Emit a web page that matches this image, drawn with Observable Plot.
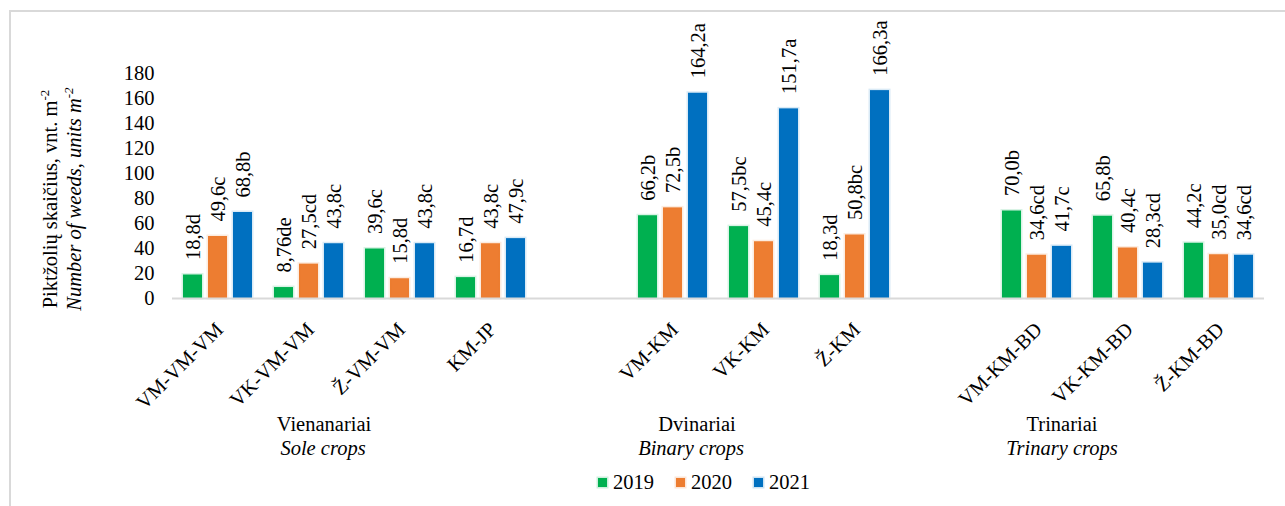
<!DOCTYPE html>
<html><head><meta charset="utf-8">
<script src="https://cdn.jsdelivr.net/npm/d3@7"></script>
<script src="https://cdn.jsdelivr.net/npm/@observablehq/plot@0.6"></script>
<style>
body{margin:0;background:#fff;}
#wrap{position:relative;width:1285px;height:506px;overflow:hidden;}
#frame{position:absolute;left:9px;top:10px;right:-10px;bottom:-10px;border-top:2px solid #d9d9d9;border-left:2px solid #d9d9d9;pointer-events:none;}
#legend{height:40px;box-sizing:border-box;padding-left:598px;padding-bottom:7px;display:flex;align-items:center;font-size:20.5px;color:#000;}
.item{display:flex;align-items:center;margin-right:22px;}
.sw{width:9px;height:9px;margin-right:6px;}
</style></head><body><div id="wrap"></div>
<script>
const slots = ["VM-VM-VM","VK-VM-VM","Ž-VM-VM","KM-JP","gap1","VM-KM","VK-KM","Ž-KM","gap2","VM-KM-BD","VK-KM-BD","Ž-KM-BD"];
const crops = ["VM-VM-VM","VK-VM-VM","Ž-VM-VM","KM-JP","VM-KM","VK-KM","Ž-KM","VM-KM-BD","VK-KM-BD","Ž-KM-BD"];
const years = ["2019","2020","2021"];
const colors = ["#00B050","#ED7D31","#0070C0"];
const values2019 = [18.8, 8.76, 39.6, 16.7, 66.2, 57.5, 18.3, 70.0, 65.8, 44.2];
const values2020 = [49.6, 27.5, 15.8, 43.8, 72.5, 45.4, 50.8, 34.6, 40.4, 35.0];
const values2021 = [68.8, 43.8, 43.8, 47.9, 164.2, 151.7, 166.3, 41.7, 28.3, 34.6];
const labels2019 = ["18,8d","8,76de","39,6c","16,7d","66,2b","57,5bc","18,3d","70,0b","65,8b","44,2c"];
const labels2020 = ["49,6c","27,5cd","15,8d","43,8c","72,5b","45,4c","50,8bc","34,6cd","40,4c","35,0cd"];
const labels2021 = ["68,8b","43,8c","43,8c","47,9c","164,2a","151,7a","166,3a","41,7c","28,3cd","34,6cd"];
const yTicks = [0,20,40,60,80,100,120,140,160,180];
const groupsLt = ["Vienanariai","Dvinariai","Trinariai"];
const groupsEn = ["Sole crops","Binary crops","Trinary crops"];
const groupAnchor = ["VK-VM-VM","VM-KM","VM-KM-BD"];
const yTitleLt = "Piktžolių skaičius, vnt. m";
const yTitleEn = "Number of weeds, units m";
const yTitleSup = "-2";

const font = "Liberation Serif";
const fs = 20.5;
const wrap = document.getElementById("wrap");
wrap.style.fontFamily = `"${font}"`;

const series = [values2019, values2020, values2021];
const labels = [labels2019, labels2020, labels2021];
const data = crops.flatMap((c, i) => years.map((y, j) => ({crop: c, year: y, value: series[j][i], label: labels[j][i]})));
const groups = groupsLt.map((g, i) => ({lt: g, en: groupsEn[i], anchor: groupAnchor[i]}));
const shiftLt = [15, 24, 25];
const shiftEn = [14, 18, 25];
const txt = {fontFamily: font, fontSize: fs, fill: "#000"};

const chart = Plot.plot({
  width: 1285, height: 466,
  marginLeft: 170, marginRight: 19, marginTop: 73, marginBottom: 168,
  style: {background: "none", color: "#000", fontFamily: `"${font}"`},
  fx: {domain: slots, padding: 0, axis: null},
  x: {domain: years, paddingInner: 0.25, paddingOuter: 0.43, axis: null},
  y: {domain: [0, 180], axis: null},
  color: {domain: years, range: colors},
  marks: [
    Plot.axisY({ticks: yTicks, tickSize: 0, tickPadding: 18, label: null, ...txt}),
    Plot.barY(data, {fx: "crop", x: "year", y: "value", fill: "year", stroke: "year", strokeOpacity: 0.15, strokeWidth: 3}),
    Plot.ruleY(slots, {fx: d => d, y: () => 0, stroke: "#d9d9d9", strokeWidth: 2}),
    Plot.text(data, {fx: "crop", x: "year", y: "value", text: "label", rotate: -90, textAnchor: "start", lineAnchor: "middle", dy: -15, ...txt}),
    Plot.text(crops, {fx: d => d, text: d => d, frameAnchor: "bottom", rotate: -45, textAnchor: "end", lineAnchor: "top", dy: 22, dx: -4, ...txt}),
    ...groups.map((g, i) => Plot.text([g], {fx: "anchor", text: "lt", frameAnchor: "bottom", lineAnchor: "middle", dy: 126, dx: shiftLt[i], ...txt})),
    ...groups.map((g, i) => Plot.text([g], {fx: "anchor", text: "en", frameAnchor: "bottom", lineAnchor: "middle", dy: 150, dx: shiftEn[i], fontStyle: "italic", ...txt}))
  ]
});
wrap.appendChild(chart);

const svg = d3.select(chart);
const t1 = svg.append("text").attr("transform", "translate(57,199) rotate(-90)").attr("text-anchor", "middle")
  .style("font-family", `"${font}"`).attr("font-size", fs).attr("fill", "#000");
t1.append("tspan").text(yTitleLt);
t1.append("tspan").attr("dy", -8).attr("font-size", 13).text(yTitleSup);
const t2 = svg.append("text").attr("transform", "translate(81,199) rotate(-90)").attr("text-anchor", "middle")
  .style("font-family", `"${font}"`).attr("font-size", fs).attr("font-style", "italic").attr("fill", "#000");
t2.append("tspan").text(yTitleEn);
t2.append("tspan").attr("dy", -8).attr("font-size", 13).text(yTitleSup);

const legend = d3.select(wrap).append("div").attr("id", "legend").style("font-family", `"${font}"`);
years.forEach((y, i) => {
  const it = legend.append("div").attr("class", "item");
  it.append("div").attr("class", "sw").style("background", colors[i]).style("box-shadow", `0 0 0 1.5px ${colors[i]}33`);
  it.append("span").text(y);
});
d3.select(wrap).append("div").attr("id", "frame");
</script></body></html>
